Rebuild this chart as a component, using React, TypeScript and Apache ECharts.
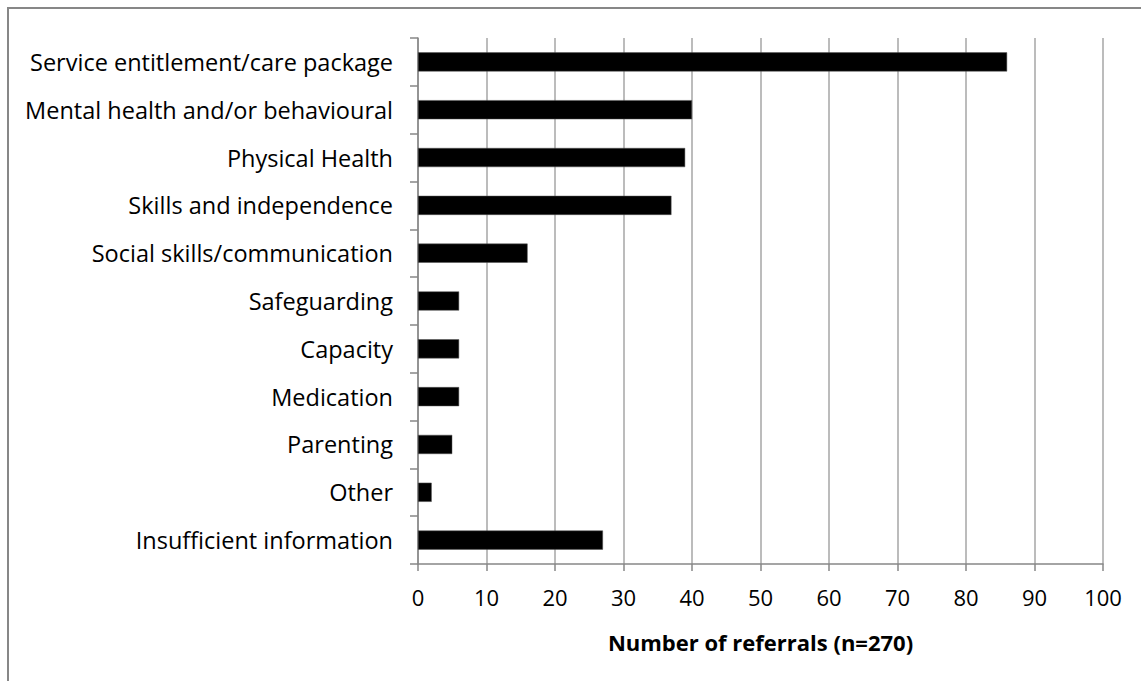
import React, { useEffect, useRef } from "react";
import * as echarts from "echarts";

const categories = [
  "Service entitlement/care package",
  "Mental health and/or behavioural",
  "Physical Health",
  "Skills and independence",
  "Social skills/communication",
  "Safeguarding",
  "Capacity",
  "Medication",
  "Parenting",
  "Other",
  "Insufficient information",
];
const values = [86, 40, 39, 37, 16, 6, 6, 6, 5, 2, 27];
const xTitle = "Number of referrals (n=270)";

export default function App() {
  const ref = useRef<HTMLDivElement>(null);
  useEffect(() => {
    if (!ref.current) return;
    const chart = echarts.init(ref.current, null, { renderer: "svg" });
    const font = "'Open Sans', sans-serif";
    chart.setOption({
      animation: false,
      backgroundColor: "#ffffff",
      graphic: [
        {
          type: "rect",
          shape: { x: 8, y: 8, width: 1300, height: 900 },
          style: { fill: "none", stroke: "#878787", lineWidth: 2 },
          silent: true,
        },
      ],
      grid: { left: 418, top: 38, right: 38, bottom: 117, containLabel: false },
      xAxis: {
        type: "value",
        min: 0,
        max: 100,
        interval: 10,
        name: xTitle,
        nameLocation: "middle",
        nameGap: 67,
        nameTextStyle: { fontFamily: font, fontSize: 22, fontWeight: "bold", color: "#000" },
        axisLine: { show: true, lineStyle: { color: "#878787", width: 1.5 } },
        axisTick: { show: true, length: 7, lineStyle: { color: "#878787", width: 1.5 } },
        axisLabel: { fontFamily: font, fontSize: 22, color: "#000", margin: 22 },
        splitLine: { show: true, lineStyle: { color: "#a6a6a6", width: 1.5 } },
      },
      yAxis: {
        type: "category",
        data: categories,
        inverse: true,
        axisLine: { show: true, lineStyle: { color: "#878787", width: 1.5 } },
        axisTick: { show: true, length: 8, lineStyle: { color: "#878787", width: 1.5 } },
        axisLabel: { fontFamily: font, fontSize: 23.5, color: "#000", margin: 25 },
        splitLine: { show: false },
      },
      series: [
        {
          type: "bar",
          data: values,
          barCategoryGap: "60%",
          itemStyle: { color: "#000000", borderColor: "#555", borderWidth: 0.5 },
        },
      ],
    });
    return () => chart.dispose();
  }, []);
  return (
    <div
      ref={ref}
      style={{ position: "absolute", left: 0, top: 0, width: 1141, height: 681 }}
    />
  );
}
